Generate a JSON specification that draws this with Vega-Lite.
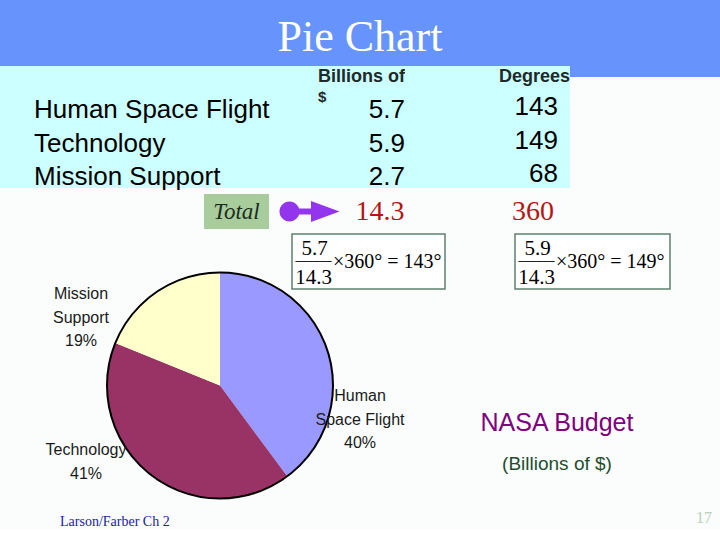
{
  "$schema": "https://vega.github.io/schema/vega-lite/v6.json",
  "padding": 0,
  "background": "#fafdfb",
  "spacing": 0,
  "config": {"view": {"stroke": null}, "font": "Liberation Sans", "text": {"baseline": "middle"}},
  "datasets": {
    "budget": [
      {"item": "Human Space Flight", "billions": 5.7, "degrees": 143, "rank": 1},
      {"item": "Technology", "billions": 5.9, "degrees": 149, "rank": 2},
      {"item": "Mission Support", "billions": 2.7, "degrees": 68, "rank": 3}
    ]
  },
  "vconcat": [
    {
      "width": 720, "height": 66, "view": {"fill": "#6694fc"},
      "data": {"values": [{}]},
      "mark": {"type": "text", "text": "Pie Chart", "font": "Liberation Serif", "fontSize": 44, "color": "#ffffff", "dy": 5},
      "encoding": {}
    },
    {
      "hconcat": [
        {"width": 34, "height": 122, "view": {"fill": "#ccffff"}, "data": {"values": [{}]}, "mark": {"type": "text", "text": "", "fontSize": 0}, "encoding": {}},
        {
          "width": 284, "height": 122, "view": {"fill": "#ccffff"},
          "data": {"name": "budget"},
          "mark": {"type": "text", "align": "left", "x": 0, "fontSize": 26, "color": "#000000"},
          "encoding": {
            "y": {"field": "item", "type": "nominal", "axis": null, "scale": {"type": "point", "domain": ["header", "Human Space Flight", "Technology", "Mission Support"], "padding": 0.33}},
            "text": {"field": "item"}
          }
        },
        {
          "width": 87, "height": 122, "view": {"fill": "#ccffff"},
          "layer": [
            {
              "data": {"values": [{}]},
              "mark": {"type": "text", "text": "Billions of", "align": "left", "x": 0, "fontWeight": "bold", "fontSize": 18, "color": "#1e2a2a"},
              "encoding": {"y": {"datum": "header", "type": "nominal", "axis": null, "scale": {"type": "point", "domain": ["header", "Human Space Flight", "Technology", "Mission Support"], "padding": 0.33}}}
            },
            {
              "data": {"values": [{}]},
              "mark": {"type": "text", "text": "$", "align": "left", "x": 0, "dy": 20, "fontWeight": "bold", "fontSize": 15, "color": "#1e2a2a"},
              "encoding": {"y": {"datum": "header", "type": "nominal", "axis": null}}
            },
            {
              "data": {"name": "budget"},
              "mark": {"type": "text", "align": "right", "x": "width", "fontSize": 26, "color": "#000000"},
              "encoding": {
                "y": {"field": "item", "type": "nominal", "axis": null},
                "text": {"field": "billions", "type": "quantitative", "format": ".1f"}
              }
            }
          ]
        },
        {
          "width": 165, "height": 122, "view": {"fill": "#ccffff"},
          "layer": [
            {
              "data": {"values": [{}]},
              "mark": {"type": "text", "text": "Degrees", "align": "right", "x": "width", "fontWeight": "bold", "fontSize": 18, "color": "#1e2a2a"},
              "encoding": {"y": {"datum": "header", "type": "nominal", "axis": null, "scale": {"type": "point", "domain": ["header", "Human Space Flight", "Technology", "Mission Support"], "padding": 0.33}}}
            },
            {
              "data": {"name": "budget"},
              "mark": {"type": "text", "align": "right", "x": "width", "dx": -12, "dy": -3, "fontSize": 26, "color": "#000000"},
              "encoding": {
                "y": {"field": "item", "type": "nominal", "axis": null},
                "text": {"field": "degrees", "type": "quantitative", "format": "d"}
              }
            }
          ]
        },
        {
          "vconcat": [
            {"width": 150, "height": 11, "view": {"fill": "#6694fc"}, "data": {"values": [{}]}, "mark": {"type": "text", "text": "", "fontSize": 0}, "encoding": {}},
            {"width": 150, "height": 111, "data": {"values": [{}]}, "mark": {"type": "text", "text": "", "fontSize": 0}, "encoding": {}}
          ],
          "spacing": 0, "bounds": "flush"
        }
      ],
      "spacing": 0, "bounds": "flush"
    },
    {"width": 720, "height": 4, "data": {"values": [{}]}, "mark": {"type": "text", "text": "", "fontSize": 0}, "encoding": {}},
    {
      "hconcat": [
        {"width": 204, "height": 35, "data": {"values": [{}]}, "mark": {"type": "text", "text": "", "fontSize": 0}, "encoding": {}},
        {
          "width": 65, "height": 35, "view": {"fill": "#a8cc9c"},
          "data": {"values": [{}]},
          "mark": {"type": "text", "text": "Total", "font": "Liberation Serif", "fontStyle": "italic", "fontSize": 23, "color": "#1c2c1c"},
          "encoding": {}
        },
        {
          "width": 81, "height": 35,
          "data": {"values": [{}]},
          "mark": {"type": "point", "shape": "M -1 0 A 0.333 0.333 0 1 1 -0.333 0 A 0.333 0.333 0 1 1 -1 0 Z M -0.4 -0.1 L 0.1 -0.1 L 0.1 0.1 L -0.4 0.1 Z M 0.05 -0.35 L 1 0 L 0.05 0.35 Z", "size": 3600, "filled": true, "color": "#9435ee", "opacity": 1},
          "encoding": {}
        },
        {
          "width": 60, "height": 35,
          "data": {"name": "budget"},
          "transform": [{"aggregate": [{"op": "sum", "field": "billions", "as": "totalBillions"}]}],
          "mark": {"type": "text", "font": "Liberation Serif", "fontSize": 28, "color": "#b71515"},
          "encoding": {"text": {"field": "totalBillions", "type": "quantitative", "format": ".1f"}}
        },
        {
          "width": 310, "height": 35,
          "data": {"name": "budget"},
          "transform": [{"aggregate": [{"op": "sum", "field": "degrees", "as": "totalDegrees"}]}],
          "mark": {"type": "text", "font": "Liberation Serif", "fontSize": 28, "color": "#b71515", "dx": -32},
          "encoding": {"text": {"field": "totalDegrees", "type": "quantitative", "format": "d"}}
        }
      ],
      "spacing": 0, "bounds": "flush"
    },
    {"width": 720, "height": 4, "data": {"values": [{}]}, "mark": {"type": "text", "text": "", "fontSize": 0}, "encoding": {}},
    {
      "vconcat": [
        {
          "hconcat": [
            {"width": 292, "height": 55, "data": {"values": [{}]}, "mark": {"type": "text", "text": "", "fontSize": 0}, "encoding": {}},
            {
              "width": 153, "height": 55, "view": {"fill": "#ffffff", "stroke": "#5f8070", "strokeWidth": 1.5},
              "data": {"values": [{}]},
              "layer": [
                {"mark": {"type": "text", "text": "5.7", "font": "Liberation Serif", "fontSize": 21, "dx": -54, "dy": -12.5, "color": "#000000"}, "encoding": {}},
                {"mark": {"type": "text", "text": "──────", "font": "DejaVu Sans Mono", "fontSize": 10, "dx": -55, "dy": 0, "color": "#000000"}, "encoding": {}},
                {"mark": {"type": "text", "text": "14.3", "font": "Liberation Serif", "fontSize": 21, "dx": -55, "dy": 16, "color": "#000000"}, "encoding": {}},
                {"mark": {"type": "text", "text": "×360° = 143°", "align": "left", "font": "Liberation Serif", "fontSize": 20, "dx": -35.5, "dy": 0, "color": "#000000"}, "encoding": {}}
              ]
            },
            {"width": 70, "height": 55, "data": {"values": [{}]}, "mark": {"type": "text", "text": "", "fontSize": 0}, "encoding": {}},
            {
              "width": 155, "height": 55, "view": {"fill": "#ffffff", "stroke": "#5f8070", "strokeWidth": 1.5},
              "data": {"values": [{}]},
              "layer": [
                {"mark": {"type": "text", "text": "5.9", "font": "Liberation Serif", "fontSize": 21, "dx": -55, "dy": -12.5, "color": "#000000"}, "encoding": {}},
                {"mark": {"type": "text", "text": "──────", "font": "DejaVu Sans Mono", "fontSize": 10, "dx": -56, "dy": 0, "color": "#000000"}, "encoding": {}},
                {"mark": {"type": "text", "text": "14.3", "font": "Liberation Serif", "fontSize": 21, "dx": -56, "dy": 16, "color": "#000000"}, "encoding": {}},
                {"mark": {"type": "text", "text": "×360° = 149°", "align": "left", "font": "Liberation Serif", "fontSize": 20, "dx": -36.5, "dy": 0, "color": "#000000"}, "encoding": {}}
              ]
            },
            {"width": 50, "height": 55, "data": {"values": [{}]}, "mark": {"type": "text", "text": "", "fontSize": 0}, "encoding": {}}
          ],
          "spacing": 0, "bounds": "flush"
        },
        {
          "hconcat": [
            {
              "width": 440, "height": 191,
              "layer": [
                {
                  "data": {"name": "budget"},
                  "mark": {"type": "arc", "outerRadius": 113},
                  "encoding": {
                    "theta": {"field": "billions", "type": "quantitative", "stack": true},
                    "order": {"field": "rank", "type": "quantitative"},
                    "color": {"field": "item", "type": "nominal", "legend": null, "scale": {"domain": ["Human Space Flight", "Technology", "Mission Support"], "range": ["#9999ff", "#993366", "#ffffcc"]}}
                  }
                },
                {
                  "data": {"values": [{}]},
                  "mark": {"type": "point", "shape": "circle", "size": 51076, "filled": false, "stroke": "#000000", "strokeWidth": 2, "opacity": 1},
                  "encoding": {}
                },
                {
                  "data": {"values": [{}]},
                  "mark": {"type": "text", "text": ["Human", "Space Flight", "40%"], "fontSize": 16, "lineHeight": 23.5, "dx": 140, "dy": 10.5, "color": "#1a1a1a"},
                  "encoding": {}
                },
                {
                  "data": {"values": [{}]},
                  "mark": {"type": "text", "text": ["Technology", "41%"], "fontSize": 16, "lineHeight": 23.5, "dx": -134, "dy": 64.5, "color": "#1a1a1a"},
                  "encoding": {}
                },
                {
                  "data": {"values": [{}]},
                  "mark": {"type": "text", "text": ["Mission", "Support", "19%"], "fontSize": 16, "lineHeight": 23.5, "dx": -139, "dy": -91.5, "color": "#1a1a1a"},
                  "encoding": {}
                },
                {
                  "data": {"values": [{}]},
                  "mark": {"type": "text", "text": "Larson/Farber Ch 2", "align": "left", "dx": -160, "dy": 136, "font": "Liberation Serif", "fontSize": 14, "color": "#1a1aa8"},
                  "encoding": {}
                }
              ]
            },
            {
              "width": 280, "height": 191,
              "data": {"values": [{}]},
              "layer": [
                {"mark": {"type": "text", "text": "NASA Budget", "fontSize": 25, "color": "#800080", "dx": -23, "dy": 37}, "encoding": {}},
                {"mark": {"type": "text", "text": "(Billions of $)", "fontSize": 19, "color": "#1f4d2e", "dx": -23, "dy": 78}, "encoding": {}},
                {"mark": {"type": "text", "text": "17", "align": "right", "dx": 132, "dy": 132, "font": "Liberation Serif", "fontSize": 16, "color": "#b8d0b8"}, "encoding": {}}
              ]
            }
          ],
          "spacing": 0, "bounds": "flush"
        }
      ],
      "spacing": -24.75
    }
  ]
}
